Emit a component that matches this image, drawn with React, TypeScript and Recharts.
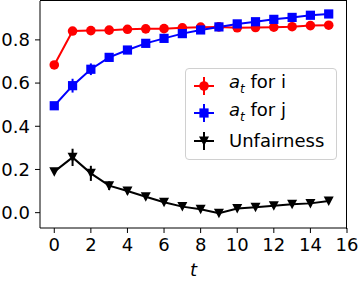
import React from "react";
import { ComposedChart, Line, XAxis, YAxis, ErrorBar } from "recharts";

const steps = [0, 1, 2, 3, 4, 5, 6, 7, 8, 9, 10, 11, 12, 13, 14, 15];
const atI = [0.684, 0.841, 0.843, 0.845, 0.849, 0.851, 0.852, 0.856, 0.859, 0.860, 0.856, 0.857, 0.859, 0.861, 0.866, 0.868];
const atIErr = [0.006, 0.006, 0.005, 0.005, 0.005, 0.005, 0.005, 0.005, 0.005, 0.005, 0.005, 0.005, 0.005, 0.005, 0.005, 0.005];
const atJ = [0.495, 0.588, 0.664, 0.719, 0.753, 0.784, 0.807, 0.829, 0.846, 0.860, 0.874, 0.884, 0.895, 0.904, 0.914, 0.920];
const atJErr = [0.01, 0.032, 0.027, 0.017, 0.015, 0.013, 0.012, 0.011, 0.01, 0.009, 0.009, 0.008, 0.008, 0.008, 0.008, 0.008];
const unfair = [0.190, 0.256, 0.182, 0.125, 0.100, 0.074, 0.048, 0.028, 0.016, -0.003, 0.019, 0.025, 0.032, 0.039, 0.043, 0.054];
const unfairErr = [0.01, 0.04, 0.035, 0.02, 0.015, 0.012, 0.01, 0.009, 0.008, 0.008, 0.008, 0.008, 0.008, 0.008, 0.008, 0.008];

const xTicks = [0, 2, 4, 6, 8, 10, 12, 14, 16];
const yTicks = [0, 0.2, 0.4, 0.6, 0.8];

const data = steps.map((t, k) => ({
  t,
  ai: atI[k],
  aiErr: atIErr[k],
  aj: atJ[k],
  ajErr: atJErr[k],
  u: unfair[k],
  uErr: unfairErr[k],
}));

const FONT = "'DejaVu Sans', sans-serif";

const circleDot = (p: any) => (
  <circle key={p.key} cx={p.cx} cy={p.cy} r={4.8} fill="red" />
);
const squareDot = (p: any) => (
  <rect key={p.key} x={p.cx - 4.6} y={p.cy - 4.6} width={9.2} height={9.2} fill="blue" />
);
const triDot = (p: any) => (
  <polygon
    key={p.key}
    points={`${p.cx - 5},${p.cy - 4.5} ${p.cx + 5},${p.cy - 4.5} ${p.cx},${p.cy + 5}`}
    fill="black"
  />
);

function Marker({ color, shape }: { color: string; shape: string }) {
  return (
    <svg width={24} height={22} style={{ display: "block" }}>
      <line x1={2} y1={11} x2={22} y2={11} stroke={color} strokeWidth={2} />
      <line x1={12} y1={2} x2={12} y2={20} stroke={color} strokeWidth={2} />
      {shape === "circle" && <circle cx={12} cy={11} r={4.8} fill={color} />}
      {shape === "square" && <rect x={7.4} y={6.4} width={9.2} height={9.2} fill={color} />}
      {shape === "tri" && <polygon points="7,6.5 17,6.5 12,16" fill={color} />}
    </svg>
  );
}

function LegendBox() {
  const sub = { fontSize: 12, fontStyle: "italic" as const };
  const rows = [
    { color: "red", shape: "circle", label: <><i>a</i><sub style={sub}>t</sub> for i</> },
    { color: "blue", shape: "square", label: <><i>a</i><sub style={sub}>t</sub> for j</> },
    { color: "black", shape: "tri", label: <>Unfairness</> },
  ];
  return (
    <div
      style={{
        position: "absolute",
        left: 185,
        top: 68,
        border: "1px solid #d0d0d0",
        borderRadius: 4,
        background: "rgba(255,255,255,0.8)",
        padding: "3px 0 4px 6px",
        fontFamily: FONT,
        fontSize: 18,
        color: "black",
        width: 152,
        boxSizing: "border-box",
      }}
    >
      {rows.map((r, k) => (
        <div key={k} style={{ display: "flex", alignItems: "center", height: 27.5, lineHeight: "20px" }}>
          <Marker color={r.color} shape={r.shape} />
          <span style={{ marginLeft: 13, whiteSpace: "nowrap" }}>{r.label}</span>
        </div>
      ))}
    </div>
  );
}

export default function App() {
  return (
    <div style={{ position: "absolute", left: 0, top: 0, background: "white", width: 359, height: 281 }}>
      <ComposedChart
        width={359}
        height={281}
        data={data}
        margin={{ top: 1, right: 12, left: 0, bottom: 0 }}
        style={{ fontFamily: FONT }}
      >
        <XAxis
          dataKey="t"
          type="number"
          domain={[-0.78, 16]}
          ticks={xTicks}
          allowDataOverflow
          height={53}
          stroke="black"
          tickSize={5}
          tickMargin={5}
          tick={{ fill: "black", fontSize: 18 }}
          axisLine={{ stroke: "black", strokeWidth: 1 }}
          label={(props: any) => {
            const vb = props.viewBox;
            return (
              <text
                x={vb.x + vb.width / 2}
                y={vb.y + vb.height - 5}
                textAnchor="middle"
                fontSize={18}
                fontStyle="italic"
                fontFamily={FONT}
                fill="black"
              >
                t
              </text>
            );
          }}
        />
        <YAxis
          type="number"
          domain={[-0.071, 0.98]}
          ticks={yTicks}
          allowDataOverflow
          width={40}
          tickSize={5}
          tickMargin={5}
          tickFormatter={(v: number) => v.toFixed(1)}
          tick={{ fill: "black", fontSize: 18 }}
          axisLine={{ stroke: "black", strokeWidth: 1 }}
          stroke="black"
        />
        <Line
          dataKey="ai"
          stroke="red"
          strokeWidth={2}
          dot={circleDot}
          activeDot={false}
          isAnimationActive={false}
        >
          <ErrorBar dataKey="aiErr" direction="y" width={0} stroke="red" strokeWidth={2} />
        </Line>
        <Line
          dataKey="aj"
          stroke="blue"
          strokeWidth={2}
          dot={squareDot}
          activeDot={false}
          isAnimationActive={false}
        >
          <ErrorBar dataKey="ajErr" direction="y" width={0} stroke="blue" strokeWidth={2} />
        </Line>
        <Line
          dataKey="u"
          stroke="black"
          strokeWidth={2}
          dot={triDot}
          activeDot={false}
          isAnimationActive={false}
        >
          <ErrorBar dataKey="uErr" direction="y" width={0} stroke="black" strokeWidth={2} />
        </Line>
      </ComposedChart>
      <div
        style={{
          position: "absolute",
          left: 40,
          top: 0,
          width: 306,
          height: 228,
          borderTop: "1px solid black",
          borderRight: "1px solid black",
          pointerEvents: "none",
        }}
      />
      <LegendBox />
    </div>
  );
}
